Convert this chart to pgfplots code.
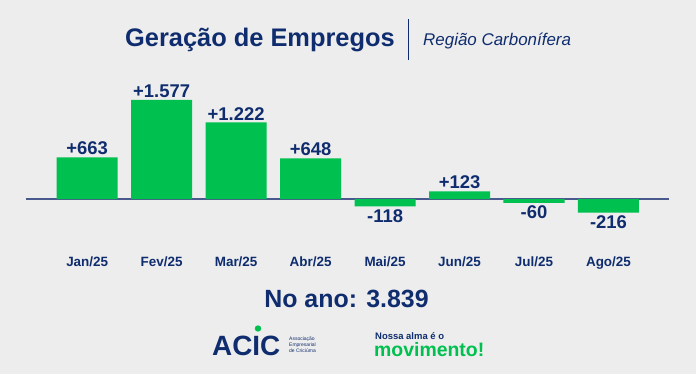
\documentclass[border=0pt]{standalone}
\usepackage{fontspec}
\setmainfont{Liberation Sans}
\usepackage{pgfplots}
\pgfplotsset{compat=1.18}
\usepackage{pgfplotstable}
\definecolor{bg}{HTML}{EDEDED}
\definecolor{navy}{HTML}{0F2D6E}
\definecolor{grn}{HTML}{00C04F}
\definecolor{axln}{HTML}{4B5A8C}
\pgfplotstableread{
x y label
0 663 +663
1 1577 +1.577
2 1222 +1.222
3 648 +648
5 123 +123
}\pos
\pgfplotstableread{
x y label
4 -118 -118
6 -60 -60
7 -216 -216
}\negv
\begin{document}
\begin{tikzpicture}[x=1bp,y=1bp]
\fill[bg] (0,0) rectangle (696,374);
\path[use as bounding box] (0,0) rectangle (696,374);
\node[anchor=base east, font=\bfseries\fontsize{25.5}{30}\selectfont, text=navy, inner sep=0] at (395,328) {Geração de Empregos};
\draw[navy, line width=1bp] (408,314) -- (408,355);
\node[anchor=base west, font=\itshape\fontsize{17}{20}\selectfont, text=navy, inner sep=0] at (423,329) {Região Carbonífera};
\begin{axis}[at={(87.2bp,175bp)}, anchor=origin, scale only axis,
  width=643bp, height=144.4bp,
  xmin=-0.822, xmax=7.813, ymin=-600, ymax=1700,
  axis line style={draw=none}, ytick=\empty,
  xtick={0,1,2,3,4,5,6,7},
  xticklabels={Jan/25,Fev/25,Mar/25,Abr/25,Mai/25,Jun/25,Jul/25,Ago/25},
  major tick length=0pt,
  xticklabel style={font=\bfseries\fontsize{13.5}{15}\selectfont, text=navy, anchor=base, yshift=-30bp},
  extra y ticks={0}, extra y tick labels={},
  extra y tick style={grid=major, major grid style={axln, line width=1.3bp}},
  clip=false]
\addplot[ybar, bar width=61bp, bar shift=0pt, fill=grn, draw=none,
  nodes near coords, point meta=explicit symbolic,
  nodes near coords style={font=\bfseries\fontsize{18.5}{21}\selectfont, text=navy, inner sep=2bp, anchor=south}]
  table[meta=label] {\pos};
\addplot[ybar, bar width=61bp, bar shift=0pt, fill=grn, draw=none,
  nodes near coords, point meta=explicit symbolic,
  nodes near coords style={font=\bfseries\fontsize{18.5}{21}\selectfont, text=navy, inner sep=3bp, anchor=north}]
  table[meta=label] {\negv};
\end{axis}
\node[anchor=base, font=\bfseries\fontsize{25}{30}\selectfont, text=navy, inner sep=0] at (346.5,67) {No ano: 3.839};
\node[anchor=base west, font=\bfseries\fontsize{28}{32}\selectfont, text=navy, inner sep=0] at (212,19) {ACIC};
\fill[grn] (258,45.5) circle (3.2);
\node[anchor=base west, font=\fontsize{5}{6}\selectfont, text=navy, inner sep=0] at (289,33.5) {Associação};
\node[anchor=base west, font=\fontsize{5}{6}\selectfont, text=navy, inner sep=0] at (289,27.5) {Empresarial};
\node[anchor=base west, font=\fontsize{5}{6}\selectfont, text=navy, inner sep=0] at (289,21.5) {de Criciúma};
\node[anchor=base west, font=\bfseries\fontsize{9.5}{11}\selectfont, text=navy, inner sep=0] at (375,35) {Nossa alma é o};
\node[anchor=base west, font=\bfseries\fontsize{19.5}{22}\selectfont, text=grn, inner sep=0] at (374,18) {movimento!};
\end{tikzpicture}
\end{document}
